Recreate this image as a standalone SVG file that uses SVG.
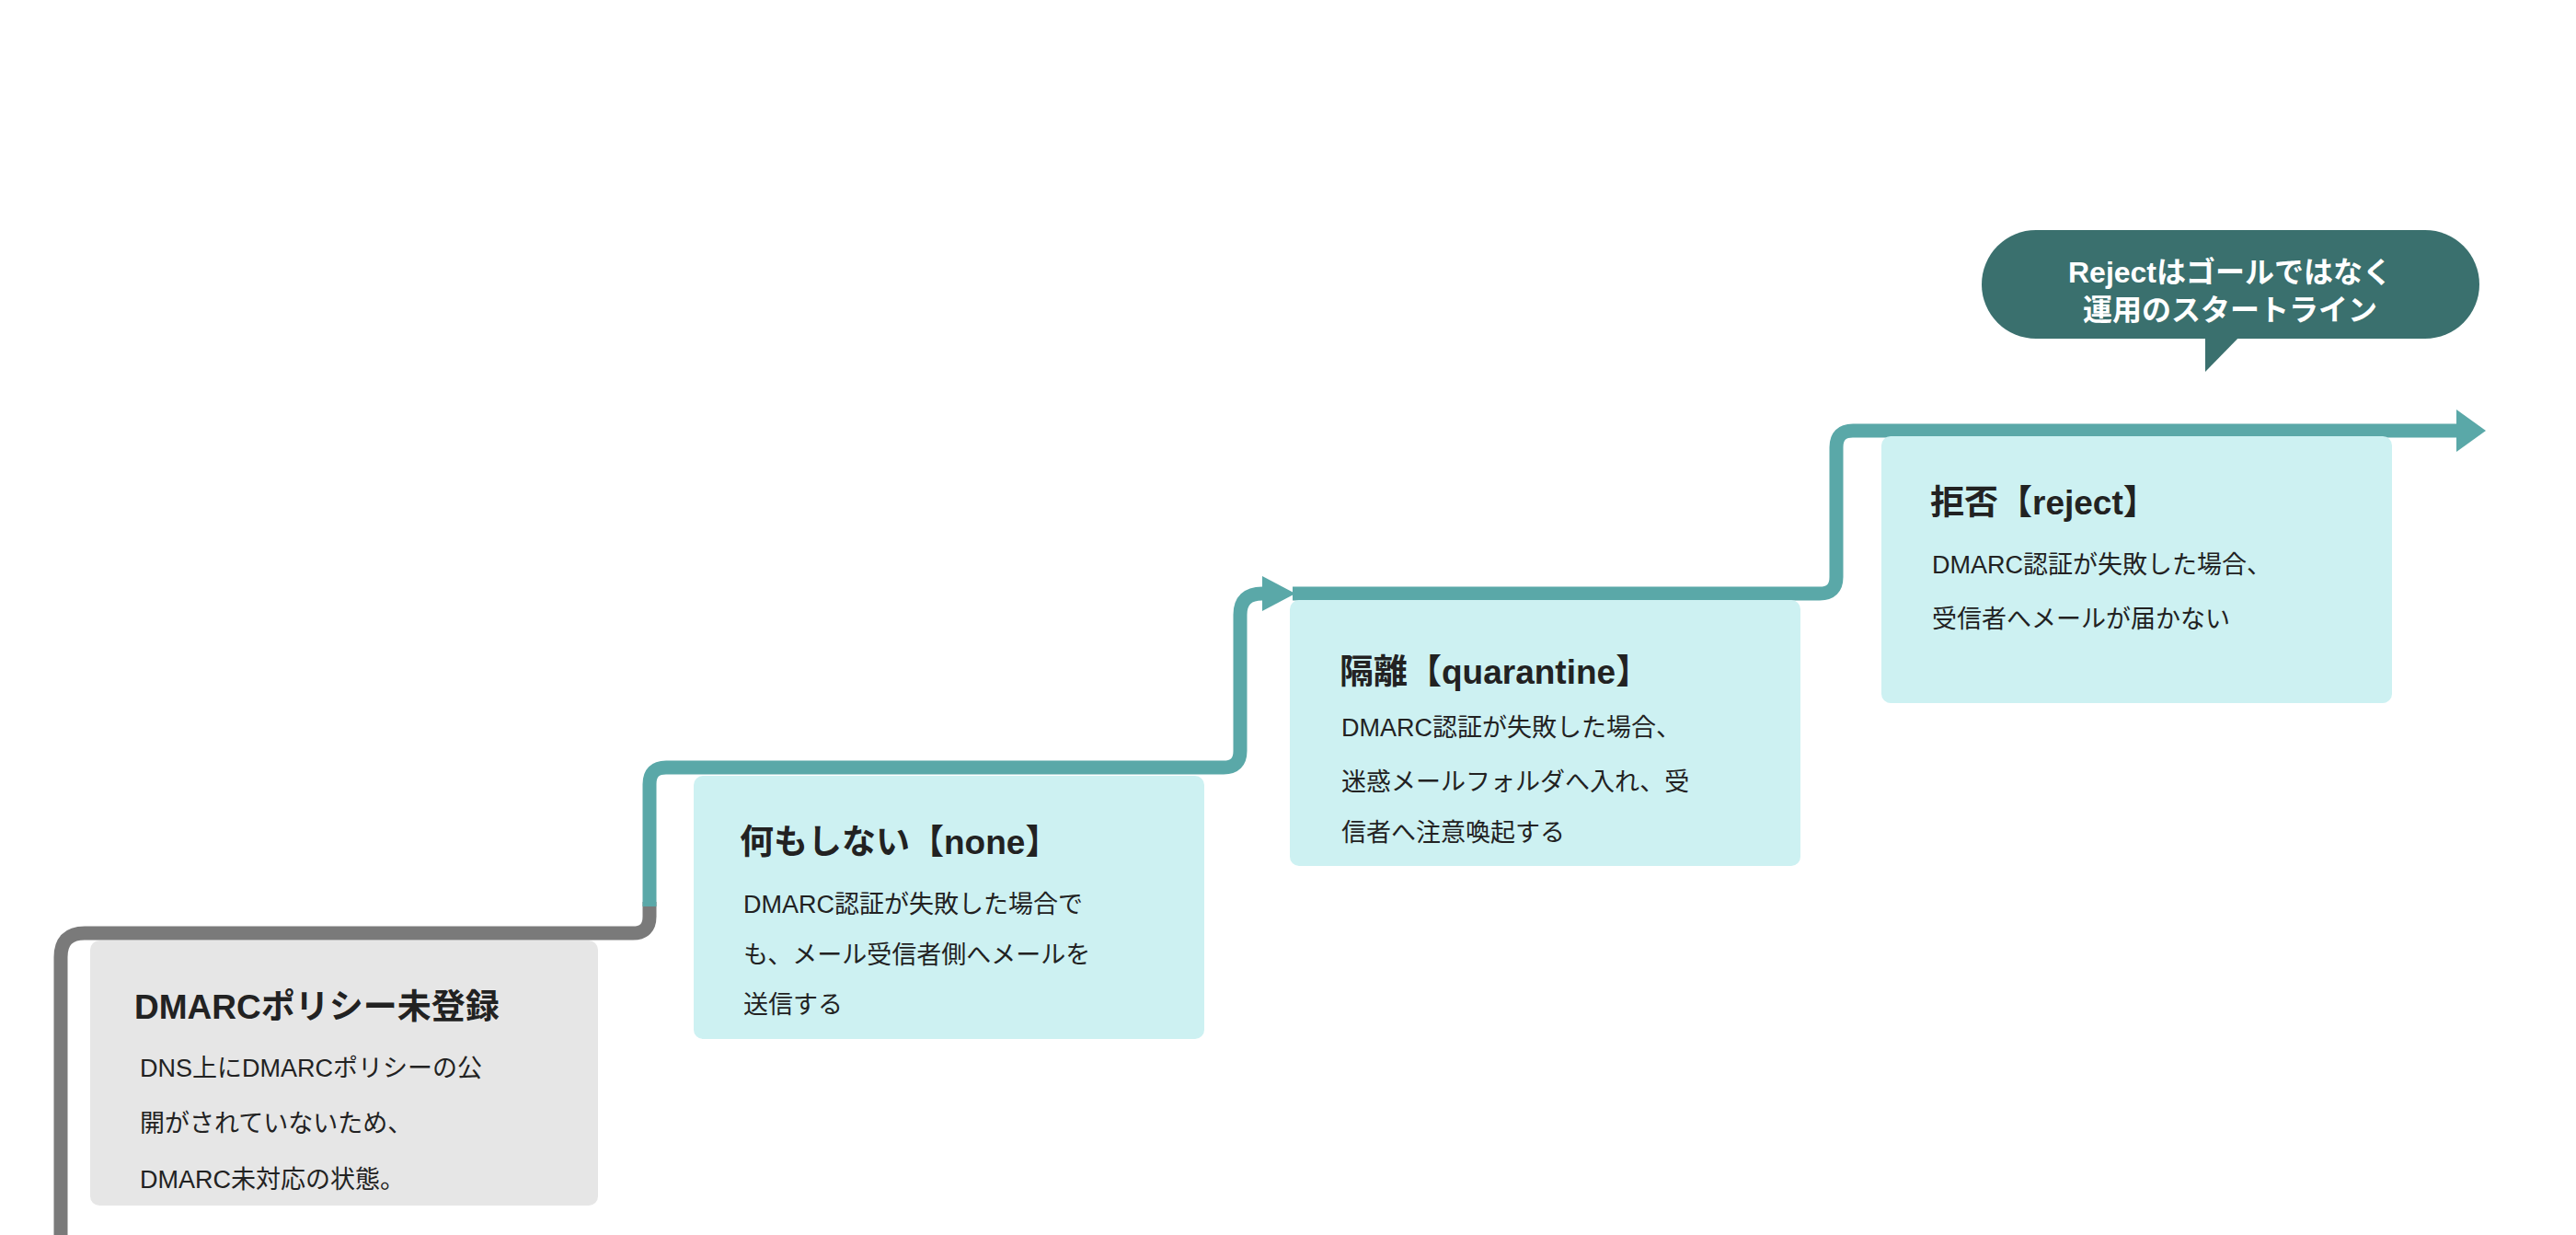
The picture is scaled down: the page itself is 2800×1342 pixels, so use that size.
<svg xmlns="http://www.w3.org/2000/svg" width="2800" height="1342" viewBox="0 0 2800 1342">
<style>
.t{font-family:"Liberation Sans","Noto Sans CJK JP",sans-serif;font-weight:bold;font-size:37px;fill:#222}
.b{font-family:"Liberation Sans","Noto Sans CJK JP",sans-serif;font-size:27px;fill:#222}
.c{font-family:"Liberation Sans","Noto Sans CJK JP",sans-serif;font-weight:bold;font-size:32px;fill:#fff}
.teal{fill:none;stroke:#5aa8a8;stroke-width:15;stroke-linejoin:round}
</style>
<rect width="2800" height="1342" fill="#fff"/>
<g id="connectors">
<path d="M66,1342 V1040 Q66,1014 92,1014 H688 Q706,1014 706,996 V980" fill="none" stroke="#7a7a7a" stroke-width="15"/>
<path class="teal" d="M706,985 V852 Q706,834 724,834 H1330 Q1348,834 1348,816 V668 Q1348,645 1372,645"/>
<polygon points="1372,626 1408,645 1372,664" fill="#5aa8a8"/>
<path class="teal" d="M1405,645 H1978 Q1996,645 1996,627 V486 Q1996,468 2014,468 H2680"/>
<polygon points="2670,445 2702,468 2670,491" fill="#5aa8a8"/>
</g>
<g id="n0">
<rect x="98" y="1022" width="552" height="288" rx="10" fill="#e6e6e6"/>
<text class="t" x="146" y="1107">DMARCポリシー未登録</text>
<text class="b" x="152" y="1170">DNS上にDMARCポリシーの公</text>
<text class="b" x="152" y="1230">開がされていないため、</text>
<text class="b" x="152" y="1291">DMARC未対応の状態。</text>
</g>
<g id="n1">
<rect x="754" y="843" width="555" height="286" rx="10" fill="#cdf1f2"/>
<text class="t" x="804" y="928">何もしない【none】</text>
<text class="b" x="808" y="992">DMARC認証が失敗した場合で</text>
<text class="b" x="808" y="1047">も、メール受信者側へメールを</text>
<text class="b" x="808" y="1101">送信する</text>
</g>
<g id="n2">
<rect x="1402" y="652" width="555" height="289" rx="10" fill="#cdf1f2"/>
<text class="t" x="1456" y="743">隔離【quarantine】</text>
<text class="b" x="1458" y="800">DMARC認証が失敗した場合、</text>
<text class="b" x="1458" y="859">迷惑メールフォルダへ入れ、受</text>
<text class="b" x="1458" y="914">信者へ注意喚起する</text>
</g>
<g id="n3">
<rect x="2045" y="474" width="555" height="290" rx="10" fill="#cdf1f2"/>
<text class="t" x="2098" y="559">拒否【reject】</text>
<text class="b" x="2100" y="623">DMARC認証が失敗した場合、</text>
<text class="b" x="2100" y="682">受信者へメールが届かない</text>
</g>
<g id="callout">
<rect x="2154" y="250" width="541" height="118" rx="59" fill="#3a706e"/>
<polygon points="2397,360 2440,360 2397,404" fill="#3a706e"/>
<text class="c" x="2424" y="307" text-anchor="middle">Rejectはゴールではなく</text>
<text class="c" x="2424" y="348" text-anchor="middle">運用のスタートライン</text>
</g>
</svg>
